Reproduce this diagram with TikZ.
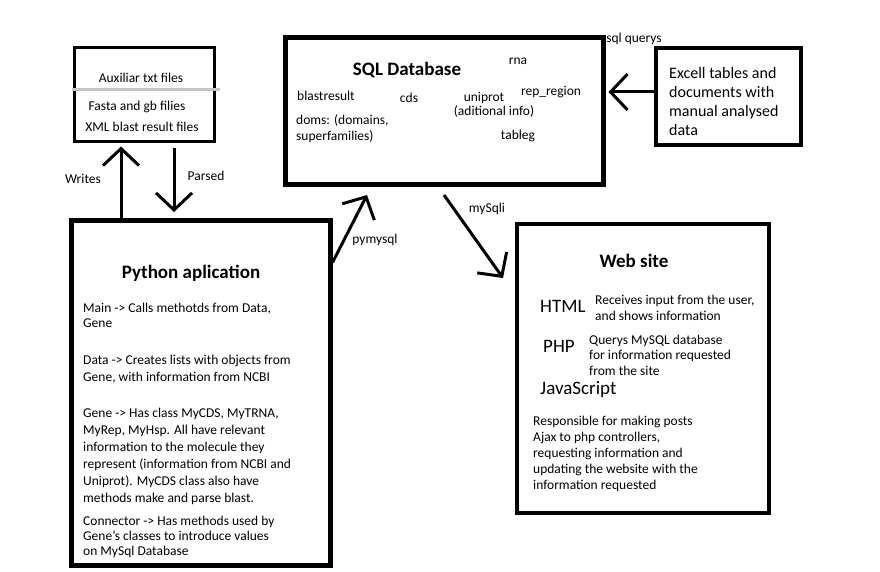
\documentclass[tikz,border=0pt]{standalone}
\usepackage{fontspec}
\setmainfont{Carlito}
\usetikzlibrary{arrows.meta}

\tikzset{
  box/.style={draw, inner sep=0pt, fill=white},
  txt/.style={inner sep=0pt, align=left, font=\fontsize{13.5}{16}\selectfont},
  big/.style={inner sep=0pt, font=\fontsize{19}{20}\selectfont},
  title/.style={inner sep=0pt, font=\fontsize{19}{20}\selectfont\bfseries},
  arr/.style={line width=3pt, -{Straight Barb[length=17pt,width=36pt]}}
}

\begin{document}
\begin{tikzpicture}[x=1pt,y=-1pt]
			\useasboundingbox[fill=white] (0,0) rectangle (880,572);
			
			% draw boxes
			\node[box, line width=3pt, minimum width=140pt, minimum height=94pt] (aux) at (144,95) {};
			\node[box, line width=5pt, minimum width=318pt, minimum height=147pt] (sql) at (444,111.5) {};
			\node[box, line width=4pt, minimum width=145pt, minimum height=97pt] (excell) at (728,96.5) {};
			\node[box, line width=5pt, minimum width=259pt, minimum height=345pt] (py) at (200.5,392.5) {};
			\node[box, line width=4pt, minimum width=252pt, minimum height=289pt] (web) at (643,368.5) {};
			
			% draw separator in auxiliar box
			\draw[gray!45, line width=3pt] (72,90) -- (220,90);
			
			% draw free ends
			\coordinate (parsedend) at (174,212);
			\coordinate (pyend) at (367,195);
			\coordinate (webstart) at (444,195);
			\coordinate (webend) at (503,278);
			
			% draw arrows
			\draw[arr] ([xshift=-79.5pt]py.north) -- ([xshift=-23pt,yshift=-3pt]aux.south);
			\draw[arr] ([xshift=30pt,yshift=-5pt]aux.south) -- (parsedend);
			\draw[arr] ([yshift=-45pt]py.north east) -- (pyend);
			\draw[arr] (webstart) -- (webend);
			\draw[arr, shorten >=3pt] ([yshift=4.5pt]excell.west) -- ([yshift=4.5pt]excell.west -| sql.east);
			
			% draw arrow labels
			\node[txt] (writes) at (83,179) {Writes};
			\node[txt] (parsed) at (206,176) {Parsed};
			\node[txt] (pymysql) at (375,240) {pymysql};
			\node[txt] (mysqli) at (487,209) {mySqli};
			\node[txt] (querys) at (634,39) {sql querys};
			
			% draw auxiliar texts
			\node[txt] (auxtxt) at (141,78) {Auxiliar txt files};
			\node[txt] (fasta) at (137,107) {Fasta and gb filies};
			\node[txt] (xml) at (142,127) {XML blast result files};
			
			% draw database texts
			\node[title] (sqltitle) at (407,70) {SQL Database};
			\node[txt] (rna) at (518,61) {rna};
			\node[txt, anchor=west] (blast) at (297,96) {blastresult};
			\node[txt] (cds) at (409,98) {cds};
			\node[txt] (uniprot) at (484,98) {uniprot};
			\node[txt] (adinfo) at (494,112) {(aditional info)};
			\node[txt] (rep) at (551,92) {rep\_region};
			\node[txt, anchor=west] (doms) at (296,129) {doms: (domains,\\superfamilies)};
			\node[txt] (tableg) at (518,136) {tableg};
			
			% draw excell texts
			\node[txt, anchor=west, font=\fontsize{16}{19}\selectfont] (exceltxt) at (669,101.5) {Excell tables and\\documents with\\manual analysed\\data};
			
			% draw python texts
			\node[title] (pytitle) at (191,273) {Python aplication};
			\node[txt, anchor=west, font=\fontsize{13.5}{15}\selectfont] (main) at (83,315.5) {Main -> Calls methotds from Data,\\Gene};
			\node[txt, anchor=west, font=\fontsize{13.5}{17}\selectfont] (data) at (83,369.5) {Data -> Creates lists with objects from\\Gene, with information from NCBI};
			\node[txt, anchor=west, font=\fontsize{13.5}{17}\selectfont] (gene) at (83,456.5) {Gene -> Has class MyCDS, MyTRNA,\\MyRep, MyHsp. All have relevant\\information to the molecule they\\represent (information from NCBI and\\Uniprot). MyCDS class also have\\methods make and parse blast.};
			\node[txt, anchor=west, font=\fontsize{13.5}{15}\selectfont] (connector) at (83,537) {Connector -> Has methods used by\\Gene's classes to introduce values\\on MySql Database};
			
			% draw web texts
			\node[title] (webtitle) at (634,261) {Web site};
			\node[big, anchor=west] (html) at (540,306) {HTML};
			\node[txt, anchor=west] (receives) at (595,308) {Receives input from the user,\\and shows information};
			\node[big, anchor=west] (php) at (543,346) {PHP};
			\node[txt, anchor=west, font=\fontsize{13.5}{15.5}\selectfont] (querysdb) at (589,355) {Querys MySQL database\\for information requested\\from the site};
			\node[big, anchor=west] (js) at (540,389) {JavaScript};
			\node[txt, anchor=west] (resp) at (533,454) {Responsible for making posts\\Ajax to php controllers,\\requesting information and\\updating the website with the\\information requested};
			\end{tikzpicture}
\end{document}
